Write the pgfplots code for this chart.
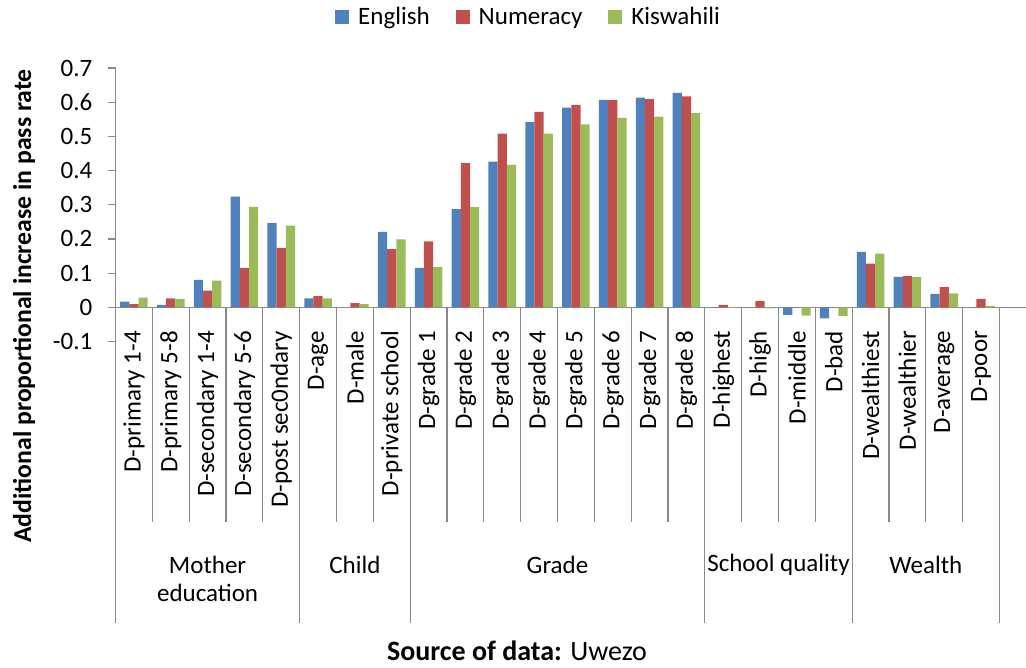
\documentclass[border=0pt]{standalone}
\usepackage{fontspec}
\setmainfont{Carlito}
\usepackage{pgfplots}
\usepackage{pgfplotstable}
\pgfplotsset{compat=1.18}
\definecolor{cEng}{HTML}{4F81BD}
\definecolor{cNum}{HTML}{C0504D}
\definecolor{cKis}{HTML}{9BBB59}
\definecolor{axgray}{HTML}{898989}
\newcommand\fs{\fontsize{25}{28}\selectfont}

\pgfplotstableread{
x eng num kis
0 0.017 0.009 0.028
1 0.007 0.026 0.024
2 0.080 0.049 0.078
3 0.324 0.115 0.294
4 0.246 0.174 0.239
5 0.026 0.033 0.026
6 0.000 0.012 0.009
7 0.221 0.170 0.199
8 0.115 0.193 0.118
9 0.287 0.422 0.293
10 0.426 0.508 0.417
11 0.542 0.572 0.508
12 0.584 0.592 0.535
13 0.607 0.606 0.554
14 0.613 0.609 0.558
15 0.627 0.617 0.568
16 0.000 0.007 -0.002
17 0.000 0.018 -0.003
18 -0.022 0.000 -0.024
19 -0.032 0.000 -0.026
20 0.162 0.128 0.157
21 0.089 0.091 0.088
22 0.039 0.059 0.041
23 0.000 0.025 0.004
}\datatable

\begin{document}
\begin{tikzpicture}[x=1pt,y=1pt]
\useasboundingbox (0,0) rectangle (1026,-668);
\begin{axis}[
  at={(115.5pt,-341.5pt)}, anchor=south west,
  width=910.5pt, height=273.5pt, scale only axis,
  xmin=-0.5, xmax=24.22, ymin=-0.1, ymax=0.7,
  clip=false,
  ybar=0pt, bar width=9.2pt,
  axis x line*=middle, axis y line*=left,
  x axis line style={axgray, line width=1.2pt, -},
  y axis line style={axgray, line width=1.2pt, -},
  xtick={0,...,23},
  xticklabels={D-primary 1-4, D-primary 5-8, D-secondary 1-4, D-secondary 5-6, D-post sec0ndary, D-age, D-male, D-private school, D-grade 1, D-grade 2, D-grade 3, D-grade 4, D-grade 5, D-grade 6, D-grade 7, D-grade 8, D-highest, D-high, D-middle, D-bad, D-wealthiest, D-wealthier, D-average, D-poor},
  x tick style={draw=none},
  xticklabel style={font=\fs, rotate=90, anchor=east, inner sep=0pt},
  xticklabel shift=15.5pt,
  ytick={-0.1,0,0.1,0.2,0.3,0.4,0.5,0.6,0.7},
  y tick style={axgray, line width=1.2pt},
  tick align=outside, major tick length=8pt,
  yticklabel style={font=\fs, inner sep=0pt, xshift=-15pt,
    /pgf/number format/fixed, /pgf/number format/precision=1},
  /pgf/number format/assume math mode=true,
  legend style={at={(0.4536,1.1865)}, anchor=center, draw=none, fill=none,
    legend columns=3, font=\fs,
    /tikz/every odd column/.append style={column sep=7pt},
    /tikz/every even column/.append style={column sep=24pt}},
  legend image code/.code={\fill[#1] (0pt,-6.7pt) rectangle (14pt,6.7pt);},
]
\addplot[fill=cEng, draw=none] table[x=x, y=eng] {\datatable};
\addplot[fill=cNum, draw=none] table[x=x, y=num] {\datatable};
\addplot[fill=cKis, draw=none] table[x=x, y=kis] {\datatable};
\legend{English, Numeracy, Kiswahili}
\pgfplotsinvokeforeach{0.5,1.5,2.5,3.5,5.5,6.5,8.5,9.5,10.5,11.5,12.5,13.5,14.5,16.5,17.5,18.5,20.5,21.5,22.5}{
  \draw[axgray, line width=1.2pt] (axis cs:#1,0) -- ([yshift=-214.7pt]axis cs:#1,0);
}
\pgfplotsinvokeforeach{-0.5,4.5,7.5,15.5,19.5,23.5}{
  \draw[axgray, line width=1.2pt] (axis cs:#1,0) -- ([yshift=-315.4pt]axis cs:#1,0);
}
\node[font=\fs, align=center] at ([yshift=-271.7pt]axis cs:2,0) {Mother\\education};
\node[font=\fs] at ([yshift=-257.7pt]axis cs:6,0) {Child};
\node[font=\fs] at ([yshift=-257.7pt]axis cs:11.5,0) {Grade};
\node[font=\fs] at ([yshift=-257.7pt]axis cs:17.5,0) {School quality};
\node[font=\fs] at ([yshift=-257.7pt]axis cs:21.5,0) {Wealth};
\end{axis}
\node[rotate=90, font=\bfseries\fontsize{25.7}{29}\selectfont] at (24,-306) {Additional proportional increase in pass rate};
\node[font=\fontsize{28}{32}\selectfont] at (517,-651) {\textbf{Source of data:} Uwezo};
\end{tikzpicture}
\end{document}
